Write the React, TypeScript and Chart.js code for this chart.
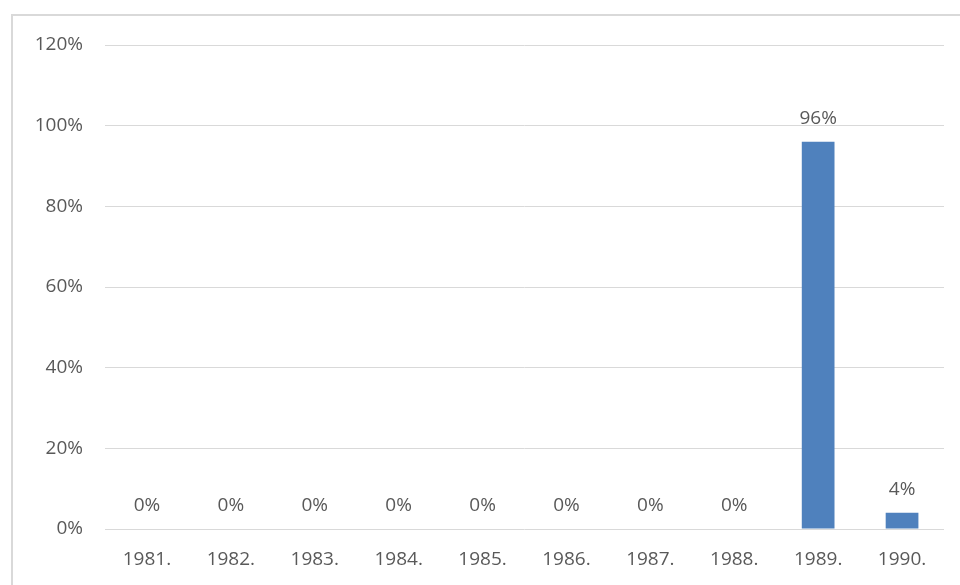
import React, { useEffect, useRef } from "react";
import { Chart, registerables } from "chart.js";

Chart.register(...registerables);

const categories = ["1981.", "1982.", "1983.", "1984.", "1985.", "1986.", "1987.", "1988.", "1989.", "1990."];
const values = [0, 0, 0, 0, 0, 0, 0, 0, 96, 4];
const yTicks = [0, 20, 40, 60, 80, 100, 120];

const FONT = "'Open Sans', 'Liberation Sans', sans-serif";
const TEXT = "#595959";
const SIZE = 19;

const labelPlugin = {
  id: "barLabels",
  afterDatasetsDraw(chart: any) {
    const ctx = chart.ctx;
    const meta = chart.getDatasetMeta(0);
    ctx.save();
    ctx.font = `${SIZE}px ${FONT}`;
    ctx.fillStyle = TEXT;
    ctx.textAlign = "center";
    ctx.textBaseline = "alphabetic";
    meta.data.forEach((bar: any, i: number) => {
      ctx.fillText(`${values[i]}%`, bar.x, bar.y - 18);
    });
    ctx.restore();
  },
};

export default function App() {
  const ref = useRef<HTMLCanvasElement>(null);
  useEffect(() => {
    const chart = new Chart(ref.current!, {
      type: "bar",
      data: {
        labels: categories,
        datasets: [
          {
            data: values,
            backgroundColor: "#4f81bd",
            categoryPercentage: 1,
            barPercentage: 0.39,
          },
        ],
      },
      options: {
        animation: false,
        responsive: false,
        devicePixelRatio: 1,
        layout: { padding: { top: 29, right: 16, left: 0, bottom: 0 } },
        plugins: { legend: { display: false }, tooltip: { enabled: false } },
        scales: {
          x: {
            grid: { display: false, drawTicks: false },
            border: { display: false },
            ticks: { color: TEXT, font: { family: FONT, size: SIZE }, padding: 19, maxRotation: 0 },
            afterFit: (s: any) => {
              s.height = 56;
              s.paddingLeft = 0;
              s.paddingRight = 0;
            },
          },
          y: {
            min: 0,
            max: 120,
            afterBuildTicks: (s: any) => {
              s.ticks = yTicks.map((v) => ({ value: v }));
            },
            grid: { color: "#d9d9d9", drawTicks: false, lineWidth: 1 },
            border: { display: false },
            ticks: {
              color: TEXT,
              font: { family: FONT, size: SIZE },
              padding: 22,
              callback: (v: any) => `${v}%`,
            },
            afterFit: (s: any) => {
              s.width = 92;
              s.paddingTop = 0;
              s.paddingBottom = 0;
            },
          },
        },
      },
      plugins: [labelPlugin],
    });
    return () => chart.destroy();
  }, []);
  return (
    <div
      style={{
        position: "fixed",
        left: 11,
        top: 14,
        width: 960,
        height: 600,
        border: "2px solid #d9d9d9",
        background: "#fff",
      }}
    >
      <canvas ref={ref} width={947} height={569} style={{ display: "block" }} />
    </div>
  );
}
